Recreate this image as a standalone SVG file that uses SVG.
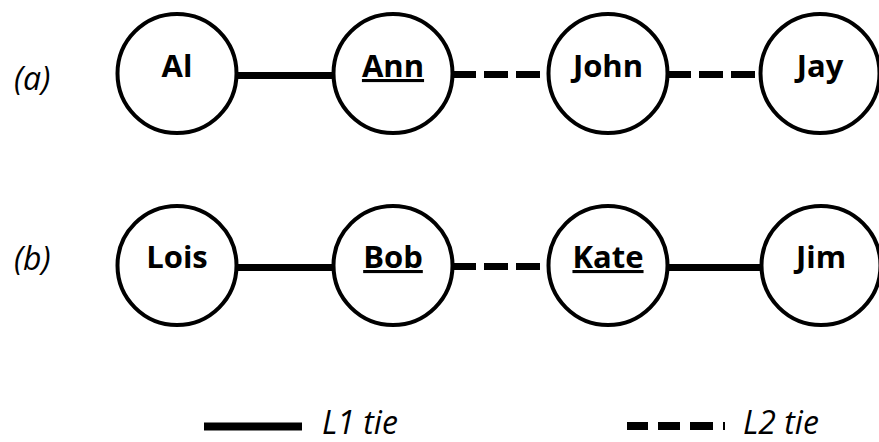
<svg xmlns="http://www.w3.org/2000/svg" width="879" height="442" viewBox="0 0 879 442">
<style>
.node circle{fill:#fff;stroke:#000;stroke-width:4}
.node text{font-family:"Open Sans","Liberation Sans",sans-serif;font-weight:700;font-size:31px;text-anchor:middle;fill:#000}
.u{text-decoration:underline}
.lbl{font-family:"Open Sans","Liberation Sans",sans-serif;font-style:italic;font-size:32px;fill:#000}
.l1{stroke:#000;stroke-width:7;fill:none}
.l2{stroke:#000;stroke-width:7;fill:none;stroke-dasharray:24 8}
</style>
<rect width="879" height="442" fill="#fff"/>
<g id="connectors">
<line class="l1" x1="236" y1="75.5" x2="334" y2="75.5"/>
<line class="l2" x1="452" y1="74.5" x2="540" y2="74.5"/>
<line class="l2" x1="667" y1="74.5" x2="755" y2="74.5"/>
<line class="l1" x1="236" y1="267.5" x2="334" y2="267.5"/>
<line class="l2" x1="452" y1="266.5" x2="540" y2="266.5"/>
<line class="l1" x1="667" y1="267.5" x2="766" y2="267.5"/>
</g>
<text class="lbl" x="14" y="90">(a)</text>
<text class="lbl" x="14" y="270">(b)</text>
<g id="node-al" class="node"><circle cx="177" cy="73.5" r="59.5"/><text x="177" y="77">Al</text></g>
<g id="node-ann" class="node"><circle cx="393" cy="73.5" r="59.5"/><text class="u" x="393" y="77">Ann</text></g>
<g id="node-john" class="node"><circle cx="608" cy="73.5" r="59.5"/><text x="608" y="77">John</text></g>
<g id="node-jay" class="node"><circle cx="820" cy="73.5" r="59.5"/><text x="820" y="77">Jay</text></g>
<g id="node-lois" class="node"><circle cx="177" cy="265.5" r="59.5"/><text x="177" y="268">Lois</text></g>
<g id="node-bob" class="node"><circle cx="393" cy="265.5" r="59.5"/><text class="u" x="393" y="268">Bob</text></g>
<g id="node-kate" class="node"><circle cx="608" cy="265.5" r="59.5"/><text class="u" x="608" y="268">Kate</text></g>
<g id="node-jim" class="node"><circle cx="821" cy="265.5" r="59.5"/><text x="821" y="268">Jim</text></g>
<g id="legend">
<line class="l1" x1="204" y1="426.5" x2="302" y2="426.5" style="stroke-width:8"/>
<text class="lbl" x="322" y="434">L1 tie</text>
<line class="l2" x1="627" y1="426" x2="726" y2="426" style="stroke-width:8;stroke-dasharray:21 10 22 10 23 10 2 10"/>
<text class="lbl" x="743" y="434">L2 tie</text>
</g>
</svg>
